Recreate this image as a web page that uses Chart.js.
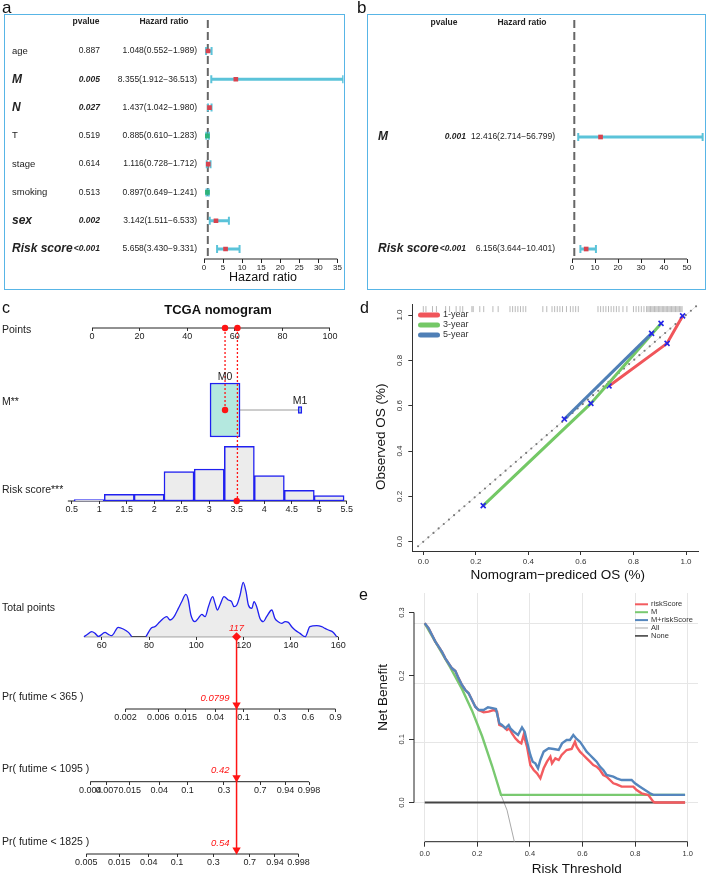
<!DOCTYPE html>
<html>
<head>
<meta charset="utf-8">
<script src="https://cdn.jsdelivr.net/npm/chart.js@4.4.1/dist/chart.umd.min.js"></script>
<style>
  body { margin: 0; width: 709px; height: 873px; position: relative; overflow: hidden; background: #fff; }
  canvas { position: absolute; }
  .frame { position: absolute; border: 1.5px solid #58b5e6; box-sizing: border-box; }
</style>
</head>
<body>
<canvas id="fa" width="355" height="292" style="left:0;top:0"></canvas>
<canvas id="fb" width="354" height="292" style="left:355px;top:0"></canvas>
<canvas id="nomo" width="355" height="581" style="left:0;top:292px"></canvas>
<canvas id="calib" width="354" height="293" style="left:355px;top:292px"></canvas>
<canvas id="dca" width="354" height="288" style="left:355px;top:585px"></canvas>
<div class="frame" style="left:4px;top:14px;width:341px;height:276px"></div>
<div class="frame" style="left:367px;top:14px;width:339px;height:276px"></div>
<script>
// ==== DATA ====
// a: univariate Cox
const uniVars = ['age', 'M', 'N', 'T', 'stage', 'smoking', 'sex', 'Risk score'];
const uniP = ['0.887', '0.005', '0.027', '0.519', '0.614', '0.513', '0.002', '<0.001'];
const uniHR = [1.048, 8.355, 1.437, 0.885, 1.116, 0.897, 3.142, 5.658];
const uniLow = [0.552, 1.912, 1.042, 0.610, 0.728, 0.649, 1.511, 3.430];
const uniHigh = [1.989, 36.513, 1.980, 1.283, 1.712, 1.241, 6.533, 9.331];
const uniTicks = [0, 5, 10, 15, 20, 25, 30, 35];

// b: multivariate Cox
const multiVars = ['M', 'Risk score'];
const multiP = ['0.001', '<0.001'];
const multiHR = [12.416, 6.156];
const multiLow = [2.714, 3.644];
const multiHigh = [56.799, 10.401];
const multiTicks = [0, 10, 20, 30, 40, 50];

// c: nomogram
const pointsTicks = [0, 20, 40, 60, 80, 100];
const mLevels = ['M0', 'M1'];
const mPoints = [55.9, 87.4];
const mFreq = [0.985, 0.015];
const riskTicks = [0.5, 1, 1.5, 2, 2.5, 3, 3.5, 4, 4.5, 5, 5.5];
const riskBins = [0.817, 1.365, 1.908, 2.451, 3.0, 3.548, 4.093, 4.638, 5.18];
const riskCounts = [1, 5, 5, 22, 24, 41, 19, 8, 4];
const riskBinWidth = 0.546;
const totalTicks = [60, 80, 100, 120, 140, 160];
const totalX = [52.5, 53.6, 55.8, 57.2, 58.6, 61.4, 62.8, 64.2, 67.0, 69.1, 71.3, 72.7, 75.7,
  78.7, 81.1, 82.5, 84.6, 87.5, 88.9, 90.3, 92.4, 93.8, 95.6, 96.6, 97.7, 99.4, 100.8, 102.3,
  103.7, 105.1, 106.9, 107.9, 108.9, 110.0, 111.7, 113.5, 114.9, 115.9, 117.1, 118.5, 119.8,
  121.0, 122.0, 123.4, 124.4, 125.5, 126.9, 128.3, 129.7, 131.9, 133.2, 134.6, 136.1, 137.5,
  138.9, 140.3, 141.7, 143.8, 146.0, 148.0, 150.9, 153.0, 154.4, 155.8, 157.9, 159.3];
const totalDensity = [0, 1.7, 5, 3.3, 0.3, 4.3, 2.3, 1, 9.3, 7.7, 4.3, 0, null,
  0, 9, 10, 15, 20, 16.7, 19, 28.3, 35, 42.3, 36.7, 21.7, 15, 18.3, 22.3,
  20, 30, 40, 33.3, 26.7, 31.7, 40, 36.7, 35, 30, 31.7, 41.7, 54.3,
  45, 31.7, 28.3, 35, 30, 18.3, 15, 20, 26.7, 18.3, 15, 13.3, 15,
  14.3, 10, 6.7, 3.3, 0, 10, 11, 10, 8.3, 6.7, 4.3, 0];
const prNames = ['Pr( futime < 365 )', 'Pr( futime < 1095 )', 'Pr( futime < 1825 )'];
const prTicks = [
  [0.002, 0.006, 0.015, 0.04, 0.1, 0.3, 0.6, 0.9],
  [0.004, 0.007, 0.015, 0.04, 0.1, 0.3, 0.7, 0.94, 0.998],
  [0.005, 0.015, 0.04, 0.1, 0.3, 0.7, 0.94, 0.998]
];
const patRisk = 3.5;
const patRiskPts = 61.1;
const patTotal = 117;
const patPr = [0.0799, 0.42, 0.54];

// d: calibration
const calYears = ['1-year', '3-year', '5-year'];
const cal1Pred = [0.707, 0.928, 0.987], cal1Obs = [0.687, 0.875, 0.996];
const cal3Pred = [0.228, 0.638, 0.905], cal3Obs = [0.159, 0.610, 0.963];
const cal5Pred = [0.537, 0.869], cal5Obs = [0.541, 0.919];
const calTicks = [0, 0.2, 0.4, 0.6, 0.8, 1.0];
const rugPred = [0.0, 0.01, 0.035, 0.05, 0.085, 0.1, 0.125, 0.14, 0.15, 0.185, 0.19, 0.215, 0.23,
  0.265, 0.285, 0.33, 0.34, 0.35, 0.36, 0.37, 0.38, 0.39, 0.455, 0.47, 0.49, 0.5, 0.51, 0.52,
  0.53, 0.545, 0.56, 0.57, 0.58, 0.59, 0.665, 0.675, 0.685, 0.695, 0.705, 0.715, 0.725, 0.735,
  0.745, 0.76, 0.775, 0.8, 0.81, 0.82, 0.83, 0.84, 0.85, 0.855, 0.86, 0.865, 0.87, 0.875, 0.88,
  0.885, 0.89, 0.895, 0.9, 0.905, 0.91, 0.915, 0.92, 0.925, 0.93, 0.935, 0.94, 0.945, 0.95,
  0.955, 0.96, 0.965, 0.97, 0.975, 0.98, 0.985];

// e: decision curves
const dcaTicksX = [0, 0.2, 0.4, 0.6, 0.8, 1.0];
const dcaTicksY = [0, 0.1, 0.2, 0.3];
const dcaRiskT = [0, 0.0151, 0.0277, 0.0404, 0.053, 0.0657, 0.0784, 0.091, 0.1037, 0.1166, 0.129,
  0.1418, 0.1544, 0.167, 0.1798, 0.1925, 0.205, 0.2242, 0.2433, 0.262, 0.275, 0.2837, 0.3002,
  0.313, 0.3218, 0.332, 0.3446, 0.3573, 0.3674, 0.3763, 0.389, 0.4017, 0.4144, 0.427, 0.4397,
  0.4524, 0.465, 0.4778, 0.4841, 0.4968, 0.5095, 0.5208, 0.5397, 0.5587, 0.5714, 0.5777, 0.5904,
  0.603, 0.6157, 0.6284, 0.641, 0.6537, 0.6664, 0.679, 0.6917, 0.7044, 0.7171, 0.7298, 0.7488,
  0.7932, 0.8058, 0.8248, 0.8502, 0.8692, 0.8755, 0.99];
const dcaRisk = [0.2829, 0.275, 0.2645, 0.254, 0.246, 0.238, 0.2276, 0.2197, 0.2119, 0.2076, 0.196,
  0.1855, 0.1776, 0.1724, 0.1618, 0.1513, 0.146, 0.1424, 0.1434, 0.146, 0.1434, 0.1224, 0.1197,
  0.1145, 0.1171, 0.1092, 0.1013, 0.096, 0.0934, 0.1066, 0.0882, 0.0592, 0.0513, 0.046, 0.0382,
  0.054, 0.0645, 0.0724, 0.0618, 0.0697, 0.0671, 0.075, 0.0829, 0.0845, 0.096, 0.0882, 0.0803,
  0.075, 0.0697, 0.0645, 0.0592, 0.0566, 0.0513, 0.0434, 0.0408, 0.0355, 0.0303, 0.0287, 0.025,
  0.025, 0.0197, 0.0145, 0.0118, 0.0013, 0, 0];
const dcaBothT = [0, 0.0151, 0.0277, 0.0404, 0.053, 0.0657, 0.0784, 0.091, 0.1037, 0.1166, 0.129,
  0.1418, 0.1544, 0.167, 0.1798, 0.1925, 0.205, 0.2242, 0.2406, 0.262, 0.271, 0.2837, 0.2939,
  0.3066, 0.3193, 0.3256, 0.3383, 0.3548, 0.37, 0.3801, 0.389, 0.4017, 0.4106, 0.4207, 0.4309,
  0.4397, 0.4524, 0.4715, 0.4905, 0.5095, 0.5222, 0.5397, 0.5524, 0.565, 0.5777, 0.5904, 0.603,
  0.6157, 0.6284, 0.641, 0.6537, 0.6664, 0.679, 0.6917, 0.7171, 0.7298, 0.7488, 0.7868, 0.7995,
  0.8185, 0.8375, 0.8565, 0.8692, 0.99];
const dcaBoth = [0.2829, 0.275, 0.2645, 0.254, 0.246, 0.238, 0.2276, 0.2197, 0.2119, 0.2076, 0.196,
  0.1855, 0.1776, 0.1724, 0.1618, 0.1513, 0.146, 0.146, 0.1503, 0.1487, 0.1476, 0.125, 0.1224,
  0.1171, 0.1224, 0.1171, 0.1118, 0.1066, 0.1187, 0.1118, 0.096, 0.075, 0.0645, 0.0618, 0.054,
  0.0671, 0.0803, 0.0855, 0.0845, 0.0829, 0.0934, 0.0987, 0.0987, 0.1066, 0.1003, 0.096, 0.0882,
  0.0803, 0.075, 0.0697, 0.0645, 0.0566, 0.0513, 0.0434, 0.0408, 0.0382, 0.0355, 0.0355, 0.0303,
  0.025, 0.0197, 0.0145, 0.012, 0.012];
const dcaMT = [0, 0.0977, 0.142, 0.18, 0.218, 0.256, 0.29, 0.99];
const dcaM = [0.2829, 0.2128, 0.179, 0.145, 0.105, 0.058, 0.012, 0.012];
const dcaAllT = [0, 0.0977, 0.142, 0.18, 0.218, 0.256, 0.29, 0.313, 0.341, 0.36];
const dcaAll = [0.2829, 0.2128, 0.179, 0.145, 0.105, 0.058, 0.012, -0.012, -0.062, -0.09];
const dcaNoneT = [0, 0.99];
const dcaNone = [0, 0];

// ==== HELPERS ====
Chart.defaults.font.family = '"Liberation Sans", Arial, sans-serif';
Chart.defaults.color = '#222';
const FAM = '"Liberation Sans", Arial, sans-serif';
const font = (size, style) => (style || '') + ' ' + size + 'px ' + FAM;
const cll = p => Math.log(-Math.log(1 - p));
const pairs = (xs, ys) => xs.map((x, i) => ({ x, y: ys[i] }));
// value v sits at pixel p, k px per unit, area a0..a1 (left->right or top->bottom reversed)
const span = (a0, a1, v, p, k) => ({ min: v - (p - a0) / k, max: v + (a1 - p) / k });
// values growing upward
const vspan = (a0, a1, v, p, k) => ({ min: v - (a1 - p) / k, max: v + (p - a0) / k });
const setTicks = vals => s => { s.ticks = vals.map(v => ({ value: v })); };

function text(ctx, s, x, y, f, color, align, base) {
  ctx.font = f;
  ctx.fillStyle = color || '#222';
  ctx.textAlign = align || 'left';
  ctx.textBaseline = base || 'middle';
  ctx.fillText(s, x, y);
}
function vtext(ctx, s, x, y, f, color) {
  ctx.save();
  ctx.translate(x, y);
  ctx.rotate(-Math.PI / 2);
  text(ctx, s, 0, 0, f, color, 'center', 'middle');
  ctx.restore();
}
function drawLegend(ctx, items, x, y, dy, len, gap, size) {
  items.forEach((it, i) => {
    const yy = y + i * dy;
    ctx.save();
    ctx.strokeStyle = it.color;
    ctx.lineWidth = it.width;
    ctx.lineCap = it.cap || 'butt';
    ctx.beginPath();
    ctx.moveTo(x, yy);
    ctx.lineTo(x + len, yy);
    ctx.stroke();
    ctx.restore();
    text(ctx, it.label, x + len + gap, yy, font(size), '#333');
  });
}

// R style axis line: only between first and last tick (or a given range)
const axisLines = {
  id: 'axisLines',
  beforeDatasetsDraw(chart, args, opts) {
    const ctx = chart.ctx;
    (opts.lines || []).forEach(l => {
      const s = chart.scales[l.id];
      const t = s.ticks;
      const from = l.from !== undefined ? l.from : t[0].value;
      const to = l.to !== undefined ? l.to : t[t.length - 1].value;
      const pos = s.options.position;
      ctx.save();
      ctx.strokeStyle = '#222';
      ctx.lineWidth = 1;
      ctx.beginPath();
      if (s.isHorizontal()) {
        let y = s.top;
        if (typeof pos === 'object') {
          const k = Object.keys(pos)[0];
          y = chart.scales[k].getPixelForValue(pos[k]);
        }
        ctx.moveTo(s.getPixelForValue(from), y);
        ctx.lineTo(s.getPixelForValue(to), y);
      } else {
        ctx.moveTo(s.right, s.getPixelForValue(from));
        ctx.lineTo(s.right, s.getPixelForValue(to));
      }
      ctx.stroke();
      ctx.restore();
    });
  }
};

const baseOpts = {
  responsive: false,
  animation: false,
  events: [],
};

// ==== a, b: FOREST PLOTS ====
function forestChart(id, L, vars, pv, hr, lo, hi, ticks) {
  const cyan = '#5bc3d9';
  const sig = pv.map(p => p.startsWith('<') || parseFloat(p) < 0.05);
  const xr = span(L.area[0], L.area[1], 0, L.area[0], L.xScale);
  const yr = span(L.area[2], L.area[3], 0, L.row0, L.rowStep);
  const whiskers = vars.map((v, i) => ({
    data: [{ x: lo[i], y: i }, { x: hi[i], y: i }],
    showLine: true, borderColor: cyan, borderWidth: 3,
    pointStyle: 'line', pointRotation: 90, pointRadius: 4,
    pointBorderColor: cyan, pointBorderWidth: 2, order: 2
  }));
  return new Chart(document.getElementById(id), {
    type: 'scatter',
    data: {
      datasets: [
        { data: pairs(hr, vars.map((v, i) => i)), pointStyle: 'rect', pointRadius: 3.3,
          pointBackgroundColor: hr.map(v => v > 1 ? '#d8434f' : '#2db37a'),
          pointBorderWidth: 0, borderColor: '#d8434f', order: 1 },
        ...whiskers,
        { data: [{ x: 1, y: yr.min }, { x: 1, y: yr.max }], showLine: true, pointRadius: 0,
          borderColor: '#666', borderWidth: 2, borderDash: [8, 4], order: 3 }
      ]
    },
    options: {
      ...baseOpts,
      layout: { padding: L.pad, autoPadding: false },
      plugins: { legend: { display: false }, tooltip: { enabled: false }, axisLines: { lines: [{ id: 'x' }] } },
      scales: {
        x: {
          type: 'linear', min: 0, max: xr.max,
          afterBuildTicks: setTicks(ticks),
          afterFit: s => { s.height = 30; },
          border: { display: false },
          grid: { drawOnChartArea: false, tickLength: 4, tickColor: '#222' },
          ticks: { font: { size: 8 }, color: '#222', padding: 0, maxRotation: 0, autoSkip: false, callback: v => String(v) }
        },
        y: { type: 'linear', display: false, reverse: true, min: yr.min, max: yr.max }
      }
    },
    plugins: [axisLines, {
      id: 'forestText',
      afterDraw(chart) {
        const ctx = chart.ctx, ys = chart.scales.y;
        text(ctx, L.letter, 2, 13, font(17), '#111', 'left', 'alphabetic');
        text(ctx, 'pvalue', L.pHead, L.headY, font(8.5, 'bold'), '#222', 'center');
        text(ctx, 'Hazard ratio', L.hrHead, L.headY, font(8.5, 'bold'), '#222', 'center');
        vars.forEach((v, i) => {
          const y = ys.getPixelForValue(i);
          text(ctx, v, L.nameX, y, sig[i] ? font(12, 'italic bold') : font(9.5), '#222');
          text(ctx, pv[i], L.pRight, y, sig[i] ? font(8.5, 'italic bold') : font(8.5), '#222', 'right');
          const s = hr[i].toFixed(3) + '(' + lo[i].toFixed(3) + '\u2212' + hi[i].toFixed(3) + ')';
          text(ctx, s, L.hrRight, y, font(8.5), '#222', 'right');
        });
        if (L.title) text(ctx, 'Hazard ratio', L.title[0], L.title[1], font(12.5), '#111', 'center');
      }
    }]
  });
}

forestChart('fa', {
  letter: 'a', pad: { left: 204, right: 11.5, top: 20, bottom: 3 },
  area: [204, 343.5, 20, 259], xScale: 3.811, row0: 51, rowStep: 28.286,
  nameX: 12, pRight: 100, hrRight: 197, pHead: 86, hrHead: 164, headY: 22, title: [263, 278]
}, uniVars, uniP, uniHR, uniLow, uniHigh, uniTicks);

forestChart('fb', {
  letter: 'b', pad: { left: 217, right: 5, top: 20, bottom: 3 },
  area: [217, 349, 20, 259], xScale: 2.3, row0: 137, rowStep: 112,
  nameX: 23, pRight: 111, hrRight: 200, pHead: 89, hrHead: 167, headY: 23
}, multiVars, multiP, multiHR, multiLow, multiHigh, multiTicks);

// ==== c: NOMOGRAM ====
const NTOP = 292, NBOT = 873, NW = 355;
const rowY = { points: 328, m: 410, risk: 501, total: 636.7, pr: [709, 781.7, 854] };
const rowLabelY = [330, 402, 490, 608, 697, 769, 842];
const rowLabels = ['Points', 'M**', 'Risk score***', 'Total points', ...prNames];
const RED = '#ff1414', NBLUE = '#2020f0';
const boxW = f => 12.7 * Math.sqrt(f);
const boxH = f => 54.4 * Math.sqrt(f);
const ptsR = span(0, NW, 0, 92, 2.38);
const riskR = span(0, NW, 0.5, 71.7, 55);
const totR = span(0, NW, 60, 101.7, 2.366);
const totPx = 101.7 + (patTotal - 60) * 2.366;
const prR = patPr.map(p => span(0, NW, cll(p), totPx, 29.8));

function nomAxis(r, row, values, labels) {
  return {
    type: 'linear', axis: 'x', position: { y: row }, min: r.min, max: r.max, offset: false,
    afterBuildTicks: setTicks(values),
    border: { display: false },
    grid: { drawOnChartArea: false, tickLength: 3, tickColor: '#333', offset: false },
    ticks: { autoSkip: false, maxRotation: 0, padding: 0, color: '#222', font: { size: 9 },
      callback: (v, i) => String(labels ? labels[i] : v) }
  };
}

const dotted = (axis, x, y0, y1) => ({
  xAxisID: axis, data: [{ x, y: y0 }, { x, y: y1 }], showLine: true, pointRadius: 0,
  borderColor: RED, borderWidth: 1.3, borderDash: [2, 2], order: 1
});

new Chart(document.getElementById('nomo'), {
  type: 'scatter',
  data: {
    datasets: [
      { xAxisID: 'xPts', data: [{ x: mPoints[0], y: rowY.points }, { x: patRiskPts, y: rowY.points }, { x: mPoints[0], y: rowY.m }],
        pointRadius: 3.2, pointBackgroundColor: RED, pointBorderWidth: 0, borderColor: RED, order: 0 },
      { xAxisID: 'xRisk', data: [{ x: patRisk, y: rowY.risk }],
        pointRadius: 3.2, pointBackgroundColor: RED, pointBorderWidth: 0, order: 0 },
      { xAxisID: 'xTot', data: [{ x: patTotal, y: rowY.total }], pointStyle: 'rectRot',
        pointRadius: 4.5, pointBackgroundColor: RED, pointBorderWidth: 0, order: 0 },
      ...patPr.map((p, i) => ({
        xAxisID: 'xP' + (i + 1), data: [{ x: cll(p), y: rowY.pr[i] - 4 }], pointStyle: 'triangle',
        pointRotation: 180, pointRadius: 4.8, pointBackgroundColor: RED, pointBorderWidth: 0, order: 0
      })),
      { xAxisID: 'xTot', data: [{ x: patTotal, y: rowY.total }, { x: patTotal, y: rowY.pr[2] - 3 }],
        showLine: true, pointRadius: 0, borderColor: RED, borderWidth: 1.5, order: 1 },
      dotted('xPts', mPoints[0], rowY.points, rowY.m),
      dotted('xPts', patRiskPts, rowY.points, rowY.risk),
      ...mLevels.map((lv, i) => ({
        type: 'bar', indexAxis: 'y', xAxisID: 'xPts', yAxisID: 'y',
        data: [{ x: [mPoints[i] - boxW(mFreq[i]) / 2, mPoints[i] + boxW(mFreq[i]) / 2], y: rowY.m }],
        barThickness: boxH(mFreq[i]), grouped: false, backgroundColor: '#b4e8df',
        borderColor: NBLUE, borderWidth: 1.5, borderSkipped: false, order: 5
      })),
      { xAxisID: 'xPts', data: mPoints.map(x => ({ x, y: rowY.m })), showLine: true, pointRadius: 0,
        borderColor: '#9a9a9a', borderWidth: 1, order: 6 },
      { type: 'bar', xAxisID: 'xRisk', yAxisID: 'yHist', data: pairs(riskBins, riskCounts),
        barThickness: riskBinWidth * 55, grouped: false, backgroundColor: '#ececec',
        borderColor: NBLUE, borderWidth: 1.5, borderSkipped: false, order: 6 },
      { xAxisID: 'xTot', yAxisID: 'yDens', data: pairs(totalX, totalDensity), showLine: true,
        pointRadius: 0, borderColor: NBLUE, borderWidth: 1.3, fill: 'origin', backgroundColor: '#ececec',
        cubicInterpolationMode: 'monotone', order: 6 }
    ]
  },
  options: {
    ...baseOpts,
    layout: { padding: 0, autoPadding: false },
    plugins: {
      legend: { display: false }, tooltip: { enabled: false },
      axisLines: { lines: [{ id: 'xPts' }, { id: 'xRisk', from: 0.43 }, { id: 'xTot', from: 52.5 },
        { id: 'xP1' }, { id: 'xP2' }, { id: 'xP3' }] }
    },
    scales: {
      x: { display: false },
      y: { type: 'linear', display: false, reverse: true, min: NTOP, max: NBOT, offset: false, grid: { offset: false } },
      yHist: { type: 'linear', axis: 'y', display: false, ...vspan(NTOP, NBOT, 0, rowY.risk, 54.7 / 41) },
      yDens: { type: 'linear', axis: 'y', display: false, ...vspan(NTOP, NBOT, 0, rowY.total, 1) },
      xPts: nomAxis(ptsR, rowY.points, pointsTicks),
      xRisk: nomAxis(riskR, rowY.risk, riskTicks),
      xTot: nomAxis(totR, rowY.total, totalTicks),
      xP1: nomAxis(prR[0], rowY.pr[0], prTicks[0].map(cll), prTicks[0]),
      xP2: nomAxis(prR[1], rowY.pr[1], prTicks[1].map(cll), prTicks[1]),
      xP3: nomAxis(prR[2], rowY.pr[2], prTicks[2].map(cll), prTicks[2])
    }
  },
  plugins: [axisLines, {
    id: 'nomoText',
    afterDraw(chart) {
      const ctx = chart.ctx, ys = chart.scales.y, xp = chart.scales.xPts, xt = chart.scales.xTot;
      const Y = v => ys.getPixelForValue(v);
      text(ctx, 'c', 2, Y(313.3), font(16), '#111', 'left', 'alphabetic');
      text(ctx, 'TCGA nomogram', 218, Y(310), font(13, 'bold'), '#111', 'center');
      rowLabels.forEach((s, i) => text(ctx, s, 2, Y(rowLabelY[i]), font(10.5), '#222'));
      mLevels.forEach((lv, i) => {
        text(ctx, lv, xp.getPixelForValue(mPoints[i]), Y(rowY.m) - boxH(mFreq[i]) / 2 - 6, font(10.5), '#222', 'center');
      });
      const tx = xt.getPixelForValue(patTotal);
      text(ctx, String(patTotal), tx, Y(rowY.total) - 8, font(9.5, 'italic'), RED, 'center');
      patPr.forEach((p, i) => text(ctx, String(p), tx - 7, Y(rowY.pr[i]) - 11, font(9.5, 'italic'), RED, 'right'));
    }
  }]
});

// ==== d: CALIBRATION ====
const calCols = ['#f0555a', '#74c866', '#4f7fb6'];
const calSeries = [[cal1Pred, cal1Obs], [cal3Pred, cal3Obs], [cal5Pred, cal5Obs]];
const dX = span(412.3, 698, 0, 423.3, 262.7);
const dY = vspan(304, 551, 0, 541.7, 226.7);

new Chart(document.getElementById('calib'), {
  type: 'scatter',
  data: {
    datasets: [
      ...calSeries.map((c, k) => ({
        data: pairs(c[0], c[1]), showLine: true, borderColor: calCols[k], borderWidth: 3,
        pointStyle: 'crossRot', pointRadius: 3.5, pointBorderColor: '#2424e8', pointBorderWidth: 1.6, order: 3 - k
      })),
      { data: [{ x: -0.02, y: -0.02 }, { x: 1.04, y: 1.04 }], showLine: true, pointRadius: 0,
        borderColor: '#7a7a7a', borderWidth: 2.2, borderDash: [0, 6.8], borderCapStyle: 'round', order: 8 },
      { data: [{ x: -0.02, y: -0.02 }, { x: 1.04, y: 1.04 }], showLine: true, pointRadius: 0,
        borderColor: '#e2e2e2', borderWidth: 1, order: 9 },
      { data: rugPred.map(x => ({ x, y: 1.026 })), pointStyle: 'line', pointRotation: 90, pointRadius: 3,
        pointBorderColor: 'rgba(80,80,80,0.4)', pointBorderWidth: 1, borderColor: 'rgba(80,80,80,0.4)', order: 9 }
    ]
  },
  options: {
    ...baseOpts,
    layout: { padding: { left: 37.3, right: 11, top: 12, bottom: 4 }, autoPadding: false },
    plugins: { legend: { display: false }, tooltip: { enabled: false } },
    scales: {
      x: {
        type: 'linear', min: dX.min, max: dX.max, afterBuildTicks: setTicks(calTicks),
        afterFit: s => { s.height = 30; },
        border: { color: '#333', width: 1 },
        grid: { drawOnChartArea: false, tickLength: 4, tickColor: '#333' },
        ticks: { font: { size: 8 }, color: '#333', padding: 2, maxRotation: 0, autoSkip: false, callback: v => v.toFixed(1) }
      },
      y: {
        type: 'linear', min: dY.min, max: dY.max, afterBuildTicks: setTicks(calTicks),
        afterFit: s => { s.width = 20; },
        border: { color: '#333', width: 1 },
        grid: { drawOnChartArea: false, tickLength: 4, tickColor: '#333' },
        ticks: { display: false }
      }
    }
  },
  plugins: [{
    id: 'calibText',
    afterDraw(chart) {
      const ctx = chart.ctx, ys = chart.scales.y;
      text(ctx, 'd', 5, 21.3, font(16), '#111', 'left', 'alphabetic');
      ys.ticks.forEach(t => vtext(ctx, t.value.toFixed(1), 45, ys.getPixelForValue(t.value), font(8), '#333'));
      text(ctx, 'Nomogram\u2212prediced OS (%)', 202.7, 283, font(13.5), '#111', 'center');
      vtext(ctx, 'Observed OS (%)', 26.7, 144.7, font(13.5), '#111');
      drawLegend(ctx, calYears.map((s, k) => ({ label: s, color: calCols[k], width: 5, cap: 'round' })),
        65.5, 23, 10, 17, 5.5, 9);
    }
  }]
});

// ==== e: DECISION CURVES ====
const dcaCols = { risk: '#f35b5f', m: '#79c970', both: '#5586bd', all: '#a9a9a9', none: '#444' };
const eX = span(414, 698, 0, 424.7, 263);
const eY = vspan(593, 841.7, 0, 802.5, 633.3);
const eGrid = [0, 0.094, 0.188, 0.283];
const dcaLine = (xs, ys, color, w, order) => ({
  data: pairs(xs, ys), showLine: true, pointRadius: 0, borderColor: color, borderWidth: w, order
});

new Chart(document.getElementById('dca'), {
  type: 'scatter',
  data: {
    datasets: [
      dcaLine(dcaBothT, dcaBoth, dcaCols.both, 2.4, 1),
      dcaLine(dcaRiskT, dcaRisk, dcaCols.risk, 2.4, 2),
      dcaLine(dcaMT, dcaM, dcaCols.m, 2.4, 3),
      dcaLine(dcaNoneT, dcaNone, dcaCols.none, 2.2, 4),
      dcaLine(dcaAllT, dcaAll, dcaCols.all, 1, 5)
    ]
  },
  options: {
    ...baseOpts,
    layout: { padding: { left: 39, right: 11, top: 8, bottom: 6.3 }, autoPadding: false },
    plugins: { legend: { display: false }, tooltip: { enabled: false }, axisLines: { lines: [{ id: 'x' }, { id: 'y' }] } },
    scales: {
      x: {
        type: 'linear', min: eX.min, max: eX.max, afterBuildTicks: setTicks(dcaTicksX),
        afterFit: s => { s.height = 25; },
        border: { display: false },
        grid: { color: '#e6e6e6', tickLength: 5, tickColor: '#333' },
        ticks: { font: { size: 7.5 }, color: '#333', padding: 3, maxRotation: 0, autoSkip: false, callback: v => v.toFixed(1) }
      },
      y: {
        type: 'linear', min: eY.min, max: eY.max, afterBuildTicks: setTicks(dcaTicksY),
        afterFit: s => { s.width = 20; },
        border: { display: false },
        grid: { drawOnChartArea: false, tickLength: 5, tickColor: '#333' },
        ticks: { display: false }
      },
      yg: {
        type: 'linear', axis: 'y', position: 'left', min: eY.min, max: eY.max, afterBuildTicks: setTicks(eGrid),
        afterFit: s => { s.width = 0; },
        border: { display: false },
        grid: { color: '#e6e6e6', drawTicks: false },
        ticks: { display: false }
      }
    }
  },
  plugins: [axisLines, {
    id: 'dcaText',
    afterDraw(chart) {
      const ctx = chart.ctx, ys = chart.scales.y;
      text(ctx, 'e', 4, 15, font(16), '#111', 'left', 'alphabetic');
      ys.ticks.forEach(t => vtext(ctx, t.value.toFixed(1), 46.7, ys.getPixelForValue(t.value), font(7.5), '#333'));
      text(ctx, 'Risk Threshold', 221.7, 284, font(13.5), '#111', 'center');
      vtext(ctx, 'Net Benefit', 28.3, 112.3, font(13.5), '#111');
      drawLegend(ctx, [
        { label: 'riskScore', color: dcaCols.risk, width: 2 },
        { label: 'M', color: dcaCols.m, width: 2 },
        { label: 'M+riskScore', color: dcaCols.both, width: 2 },
        { label: 'All', color: dcaCols.all, width: 1 },
        { label: 'None', color: dcaCols.none, width: 1.6 }
      ], 280, 19.3, 7.9, 13, 3, 7.5);
    }
  }]
});
</script>
</body>
</html>
